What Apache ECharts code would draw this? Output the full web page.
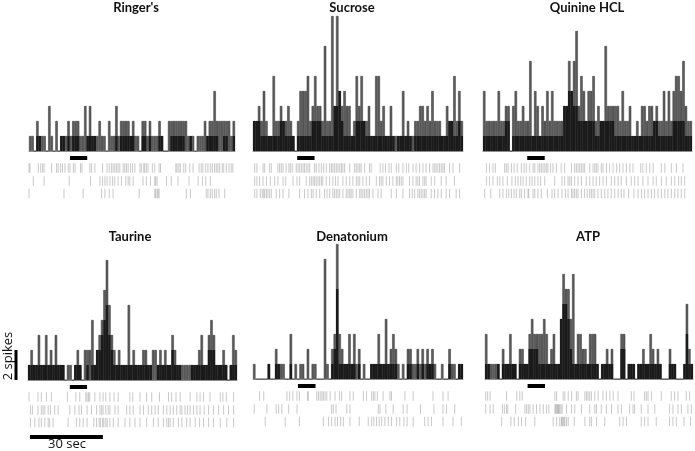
<!DOCTYPE html>
<html><head><meta charset="utf-8">
<script src="https://cdn.jsdelivr.net/npm/echarts@6/dist/echarts.min.js"></script>
<style>html,body{margin:0;padding:0;background:#fff}#c{width:695px;height:451px}</style>
</head><body><div id="c"></div>
<script>
const panelNames = ["Ringer's", "Sucrose", "Quinine HCL", "Taurine", "Denatonium", "ATP"];

// spikes per 1-s bin (upper envelope, and dark overlapping core)
const ringersEnv = [1,1,0,2,1,1,1,0,3,1,0,2,0,1,1,1,2,1,2,2,2,1,1,3,1,3,1,1,1,2,1,1,0,2,1,1,3,1,2,2,2,2,1,2,1,1,0,2,2,1,2,1,1,1,2,1,0,0,2,2,2,2,2,2,2,2,1,1,1,0,1,1,1,2,1,2,2,4,2,2,2,2,2,2,1,2];
const ringersCore = [0,0,0,1,1,0,0,0,0,0,0,0,0,1,1,0,1,0,1,1,1,0,0,0,1,1,1,1,0,0,0,0,0,0,0,0,1,0,1,1,1,1,1,1,0,0,0,1,1,0,1,0,0,0,1,1,0,0,0,1,1,1,1,1,1,0,0,1,0,0,0,0,0,0,1,1,1,1,1,0,0,1,1,0,0,1];
const sucroseEnv = [2,2,3,2,4,2,1,1,5,2,2,3,2,2,3,2,1,0,2,4,4,4,5,2,3,5,3,3,2,7,2,2,9,3,9,4,3,4,3,3,1,2,5,3,5,2,2,3,1,1,5,5,2,3,1,1,3,1,1,1,1,4,1,2,1,1,2,2,3,3,2,3,2,4,2,2,2,1,1,3,2,2,5,2,4,2];
const sucroseCore = [2,2,2,1,1,1,1,1,1,1,1,2,2,1,1,1,1,0,1,1,1,1,1,1,2,2,2,2,1,1,1,1,1,3,3,4,2,1,1,1,1,1,2,2,2,2,1,1,1,1,1,1,1,1,1,1,1,1,0,1,1,1,1,1,1,0,1,1,1,1,1,1,1,1,1,1,1,1,1,1,2,2,1,1,2,1];
const quinineEnv = [4,2,2,2,2,2,4,2,2,3,3,0,3,4,2,2,3,2,2,6,1,4,3,1,3,2,4,2,4,2,2,2,2,3,3,6,4,6,8,3,5,4,2,4,4,5,2,3,2,2,7,3,3,3,3,3,2,4,2,2,3,1,1,2,1,3,3,2,3,3,2,3,2,2,4,2,4,2,4,5,5,4,6,3,2,2];
const quinineCore = [1,1,1,1,1,1,1,1,1,2,2,0,1,1,1,1,1,1,1,1,1,1,1,1,1,1,1,1,1,1,1,1,1,3,3,4,4,3,3,2,2,2,2,2,2,2,1,1,2,2,2,2,2,2,1,1,1,1,1,1,1,1,1,1,1,1,1,1,1,1,2,2,1,1,1,1,1,1,2,2,2,2,2,1,1,1];
const taurineEnv = [1,2,1,1,3,1,1,3,1,2,1,3,1,1,1,0,1,1,0,1,2,1,0,2,2,2,4,1,2,3,4,6,8,5,3,2,1,2,1,1,1,5,1,2,1,1,1,2,2,1,1,2,2,1,2,1,2,1,1,3,2,1,1,1,1,1,1,1,1,1,2,3,1,1,3,4,3,1,1,1,2,1,0,1,3,2];
const taurineCore = [1,1,1,1,1,1,1,1,1,1,1,1,1,1,1,0,0,0,0,1,1,1,0,0,1,0,1,1,2,2,3,4,5,3,2,1,1,1,1,1,1,1,1,1,1,1,1,1,1,1,1,0,0,1,1,1,1,1,1,2,1,1,1,0,0,0,0,1,1,1,1,1,1,1,2,2,2,1,1,1,1,1,0,1,1,1];
const denatoniumEnv = [1,0,0,0,0,0,1,0,0,2,1,1,1,0,0,3,0,1,0,1,1,0,2,0,1,1,0,0,0,8,1,0,2,3,9,3,2,1,1,3,1,3,1,2,0,1,0,0,1,1,1,3,1,1,4,1,2,3,2,1,0,1,0,2,2,1,1,2,1,2,1,2,1,2,1,0,0,1,0,0,2,1,1,0,1,1];
const denatoniumCore = [0,0,0,0,0,0,1,0,0,1,1,0,0,0,0,1,0,0,0,0,0,0,0,0,0,0,0,0,0,0,0,0,1,2,6,1,1,1,1,1,1,1,0,1,0,0,0,0,1,1,1,1,1,1,1,1,1,1,1,0,0,0,0,1,1,0,0,1,0,1,0,1,1,1,0,0,0,0,0,0,1,0,0,0,1,1];
const atpEnv = [3,1,1,1,1,1,0,2,1,1,3,1,1,0,2,2,1,1,3,4,3,3,3,3,4,3,1,2,3,1,1,4,7,6,6,4,7,1,3,3,2,2,1,3,3,3,1,0,1,1,2,1,2,0,0,0,3,3,0,1,1,1,0,1,1,2,1,1,3,2,1,2,1,0,0,0,2,1,1,0,0,0,1,5,2,1];
const atpCore = [1,1,0,0,0,1,0,1,1,1,1,1,1,0,1,1,1,1,2,2,2,2,1,1,1,1,1,1,1,1,1,4,5,5,4,2,1,1,1,1,1,1,1,1,1,1,1,0,1,1,1,1,1,0,0,0,2,2,0,1,1,1,0,1,1,1,1,1,1,1,1,1,1,0,0,0,1,1,1,0,0,0,1,3,1,1];

// raster spike times (s), three trials per stimulus
const ringersR1 = [0,0.4,3.9,4.9,5.7,6.3,9.4,11.5,12.2,13.2,14,15,16.4,17.1,18.5,19.2,21.5,22.1,25.4,26.1,27.5,30.7,32.6,33.5,34.4,35.1,35.8,36.5,37.2,37.9,39.3,40,40.7,41.4,42.4,43.2,44.2,46.3,46.9,47.9,48.3,49,49.7,51.5,52.5,54.3,54.9,61.3,61.8,62.6,63.2,64.6,65.4,67.1,68.5,71,71.9,72.6,73.8,74.7,75.7,76.5,77.5,78.2,78.9,79.6,80.7,81.3,82.4,83.5,84.4,85.1];
const ringersR2 = [1.8,6.3,16.8,25.7,29.6,30.7,31.7,32.6,33.8,34.9,35.8,37.2,38.6,40.4,41.4,42.1,43.5,47.6,49,50.7,52.5,52.9,53.5,57.4,59.4,62.2,66.8,70.6,72.4,73.8,75.7];
const ringersR3 = [0,14.6,22.6,30.3,31.7,33.5,35.1,46,52.5,52.9,53.5,53.9,54.3,65.7,67.4,74,74.7,75.7,76.5,77.5,78.2,79.3,81.7];
const sucroseR1 = [0.7,1.6,4.1,4.8,6.8,7.5,10.2,10.9,11.6,12.3,13.6,14.7,15.3,16.1,17.7,18.4,19.1,19.8,20.5,21.1,21.8,22.5,23.2,25.2,25.9,27,28,28.9,30,31.4,32.1,32.7,33.4,34.1,34.8,35.5,36.2,36.8,37.5,39.6,41.6,42.3,43,43.7,44.3,45.7,47.7,48.4,52.1,53.2,54.3,55.7,56.6,58.7,59.7,61.4,62.8,63.8,65.5,66.8,68.2,69.6,70.9,72.3,73.7,74.4,75,75.7,76.4,77.1,77.8,78.4,80.5,81.9,84.6];
const sucroseR2 = [0.7,1.6,2.7,4.1,5.5,7.1,8.9,10.2,12.3,13.4,16.4,18,19.1,21.8,23.2,23.9,24.6,25.2,25.9,26.6,27.3,28,28.6,30,31.4,32.7,33.8,34.8,36.8,38.2,39.6,40.9,42.3,43,43.7,45,46.4,47.7,50.5,51.8,52.5,53.2,54.6,55.9,57.3,58.7,59.3,60,60.7,61.4,64.1,65.5,66.8,67.5,68.2,69.6,70.3,70.9,73,74.4,77.1,79.1,82.5];
const sucroseR3 = [0.7,1.6,3,3.8,4.4,4.8,5.5,6.1,6.8,7.5,9.5,10.9,12.3,14.7,19.1,21.1,22.5,23.9,24.6,25.9,27.3,29.3,30.3,31.4,32.7,33.4,34.1,34.8,35.5,36.8,38.2,38.9,39.6,40.2,40.9,42.3,43.7,44.3,45,45.7,46.4,47.1,47.7,49.1,51.2,52.5,56.6,58.7,61.4,64.1,65.2,66.2,67.5,68.2,68.9,69.6,70.3,70.9,73,74.4,75.7,77.1,79.1,80.5,83.2,84.6];
const quinineR1 = [1.4,2.7,4.1,5.1,8.9,9.6,10.3,11.7,12.8,14.1,15.8,16.9,17.8,19.2,20.6,21.3,22.6,23.3,24,24.7,25.4,26.1,26.7,27.8,28.8,30.2,32.2,33.6,36.4,37.7,38.4,39.1,39.8,40.5,41.2,41.8,43.9,45.3,46,46.6,47.3,48.7,49.4,50.8,52.1,53.5,54.9,56.2,57.6,59,60.4,61.7,64.9,65.8,67.2,68.6,70,73.4,74.8,77.5,79.6,82.3];
const quinineR2 = [1.4,2.7,4.1,5.9,6.9,8.2,10,11.9,13.3,14.4,15.5,16.5,17.8,19.2,20.2,21.3,22.6,23.7,25.4,29.5,32.5,33.6,35,35.7,36.4,37.7,39.1,40.5,42.5,43.9,45.3,46.6,48,49.4,50.8,52.8,54.2,55.6,56.9,59,61,62.4,63.8,65.8,67.9,70,71.3,73.4,75.4,77.5,78.9,80.5,81.6,83];
const quinineR3 = [0.7,3.2,6.9,8.2,9.6,10.6,11.7,12.8,13.7,15.1,15.8,17.1,18.5,18.8,20.6,21.3,22.6,24,26.5,28.4,29.5,30.9,32.5,33.9,35,36.4,37,37.7,38.4,39.1,40.5,41.8,42.9,43.9,44.6,45.3,46,47.3,48.7,50.1,51.4,52.8,54.2,55.6,56.9,58,59.9,62.1,63.8,65.2,66.5,67.9,69.3,70.6,72,73.4,74.8,76.1,77.5,78.9,80.2,81.6,83];
const taurineR1 = [0.4,4.1,5.5,7.6,9.6,16.2,19.7,21.3,23.8,24.3,24.9,25.4,27.5,29.6,30.9,32,33.7,35.4,37.1,41.9,43.1,46.1,48.8,50.9,54.1,57.8,59.1,60.9,62.6,66.7,69.5,70.8,72.2,74.9,79.1,80.2,81.6,84.6];
const taurineR2 = [1,1.8,4.1,5.5,6.2,6.9,8.3,9.2,11,12.4,17.2,19.3,21,22,24.3,26.1,28.2,29.6,30.3,30.9,32,33,33.7,35.8,37.1,40.6,41.9,43.3,46.1,47.5,49.5,50.9,52.3,53.6,55.7,57.1,58.5,59.8,61.2,62.6,63.3,64.6,65.6,66.7,68.1,69.5,70.8,72.5,74.3,76.3,78.4,80.5,82.5,84.6];
const taurineR3 = [1,2.8,4.5,5.5,6.9,8.3,8.9,10.3,16.5,19.9,21.3,22.7,24.3,27.1,28.2,29.3,29.8,30.7,31.2,32,32.6,33.7,35.1,37.1,39.9,41.9,44,46.1,48.8,51.6,53.6,55.7,57.1,57.8,58.5,59.8,61.9,63.3,65.3,66.7,68.8,70.6,72.2,74.3,76.3,79.1,81.8,84.6];
const denatoniumR1 = [2.7,4.4,13.9,15,16.3,18,19,22.3,22.7,26.1,26.8,27.5,28.2,28.8,29.5,30.2,31.6,33.6,35.4,36.3,39.7,41.1,45.2,46.5,48.6,49.3,49.9,50.9,53.3,56.1,56.7,62.2,65.6,73.7,77.8,79.9];
const denatoniumR2 = [0.5,5.7,9.5,10.5,11.8,14.6,18,32.2,32.9,34,38.4,39.7,51.3,52,54.4,57.4,61.5,63.1,68.6,74.1,77.8,79.2,82.6];
const denatoniumR3 = [5,13.2,19,28.8,30.9,32.2,33.6,34.6,35.9,37,39.7,43.5,47.2,48.6,49.5,50.6,51.7,52.7,54,55.4,56.7,58.8,60.1,61.8,63.1,65.6,70.3,71.7,73.1,77.8,81.9,85.3];
const atpR1 = [0.3,1.1,2.1,8.9,13.1,14.4,15.4,28.9,29.6,32.3,33,34.4,35.8,37.8,38.5,41.3,42,42.6,43.3,44,45.4,46.8,48.8,50.2,51.6,53,55,60.5,61.6,66,66.7,67.4,68.8,72.9,77,78.4,79.8,83.2,84.6];
const atpR2 = [0.3,2.1,3.4,7.2,8,8.9,9.4,12.7,16.5,17.2,17.9,18.6,19.9,21.3,22.7,24.1,25.4,26.4,28.9,29.2,29.6,30,30.3,30.5,30.9,31.4,31.9,33.7,35.8,37.1,39.9,43.3,45.4,46.1,48.1,50.2,52.3,55,56.4,59.8,61.2,61.9,64.6,67.4,70.2,76.3,77.7,79.8,81.2,83.9,85.3];
const atpR3 = [6.9,10.7,12.1,13.8,15.1,16.8,20.6,28.2,29.6,30.9,31.6,31.9,32.3,32.7,33,33.7,34.4,36.9,41.3,43.3,44,46.1,49.5,55.7,57.1,58.5,64.6,66,67.4,70.8,76.3,77.7,79.1,82.3,85];

// stimulus application window (s)
const stimStart = [17.1, 18.1, 18.2, 17.2, 18.4, 17.6];
const stimEnd = [24.3, 25.2, 25.4, 24.3, 25.6, 24.8];
const scaleSpikes = 2;
const scaleSeconds = 30;
const scaleLabels = ["2 spikes", "30 sec"];

const envs = [ringersEnv, sucroseEnv, quinineEnv, taurineEnv, denatoniumEnv, atpEnv];
const cores = [ringersCore, sucroseCore, quinineCore, taurineCore, denatoniumCore, atpCore];
const rasters = [
  [ringersR1, ringersR2, ringersR3],
  [sucroseR1, sucroseR2, sucroseR3],
  [quinineR1, quinineR2, quinineR3],
  [taurineR1, taurineR2, taurineR3],
  [denatoniumR1, denatoniumR2, denatoniumR3],
  [atpR1, atpR2, atpR3]
];

// ---- layout (pixels) ----
const layout = [
  {left: 29, width: 206, base: 151, tx: 136, ty: 1},
  {left: 253, width: 210, base: 151, tx: 352, ty: 1},
  {left: 483, width: 209, base: 151, tx: 587, ty: 1},
  {left: 28, width: 209, base: 380, tx: 130, ty: 230},
  {left: 253, width: 210, base: 379, tx: 352, ty: 230},
  {left: 485, width: 208, base: 379, tx: 588, ty: 230}
];
const NB = 86;
const rowY = [1.7, 3.0, 4.25];
const stimY = 0.7;

const grid = [], xAxis = [], yAxis = [], series = [], graphic = [];
layout.forEach((L, p) => {
  grid.push({left: L.left, width: L.width, top: L.base - 150, height: 150});
  grid.push({left: L.left, width: L.width, top: L.base, height: 50});
  xAxis.push({type: 'value', gridIndex: 2 * p, min: 0, max: NB, axisLine: {show: true, lineStyle: {color: '#9a9a9a', width: 1}}, axisTick: {show: false}, axisLabel: {show: false}, splitLine: {show: false}});
  xAxis.push({type: 'value', gridIndex: 2 * p + 1, min: 0, max: NB, show: false, splitLine: {show: false}});
  yAxis.push({type: 'value', gridIndex: 2 * p, min: 0, max: 10, show: false, splitLine: {show: false}});
  yAxis.push({type: 'value', gridIndex: 2 * p + 1, min: 0, max: 5, inverse: true, show: false, splitLine: {show: false}});
  const bw = L.width / NB;
  series.push({type: 'bar', xAxisIndex: 2 * p, yAxisIndex: 2 * p, barWidth: bw, barGap: '-100%',
    itemStyle: {color: '#5f5f5f', borderColor: '#2e2e2e', borderWidth: 0.5}, silent: true,
    data: envs[p].map((h, k) => [k + 0.5, h])});
  series.push({type: 'bar', xAxisIndex: 2 * p, yAxisIndex: 2 * p, barWidth: bw, barGap: '-100%',
    itemStyle: {color: '#1a1a1a'}, silent: true,
    data: cores[p].map((h, k) => [k + 0.5, Math.min(h, envs[p][k])])});
  rasters[p].forEach((row, r) => {
    series.push({type: 'scatter', xAxisIndex: 2 * p + 1, yAxisIndex: 2 * p + 1, symbol: 'rect', symbolSize: [1, 9.5],
      itemStyle: {color: 'rgba(120,120,120,0.5)'}, silent: true,
      data: row.map(t => [t, rowY[r]])});
  });
  series.push({type: 'line', xAxisIndex: 2 * p + 1, yAxisIndex: 2 * p + 1, symbol: 'none', silent: true,
    lineStyle: {color: '#000', width: 4, cap: 'butt'},
    data: [[stimStart[p], stimY], [stimEnd[p], stimY]]});
  graphic.push({type: 'text', x: L.tx, y: L.ty, style: {text: panelNames[p], textAlign: 'center', textVerticalAlign: 'top', font: 'bold 13px Lato', fill: '#111'}});
});

// scale-bar grid (spikes) left of Taurine: same 15 px / spike scale
grid.push({left: 4, width: 24, top: 230, height: 150});
xAxis.push({type: 'value', gridIndex: 12, min: 0, max: 1, show: false});
yAxis.push({type: 'value', gridIndex: 12, min: 0, max: 10, show: false});
series.push({type: 'line', xAxisIndex: 12, yAxisIndex: 12, symbol: 'none', silent: true,
  lineStyle: {color: '#000', width: 3, cap: 'butt'},
  data: [[0.5, 0], [0.5, scaleSpikes]]});
// time scale bar under Taurine raster (seconds)
series.push({type: 'line', xAxisIndex: 7, yAxisIndex: 7, symbol: 'none', clip: false, silent: true,
  lineStyle: {color: '#000', width: 4, cap: 'butt'},
  data: [[0.8, 5.7], [0.8 + scaleSeconds, 5.7]]});
graphic.push({type: 'text', x: 8, y: 356, rotation: Math.PI / 2, style: {text: scaleLabels[0], textAlign: 'center', textVerticalAlign: 'middle', font: '13px "Open Sans"', fill: '#111'}});
graphic.push({type: 'text', x: 67, y: 444, style: {text: scaleLabels[1], textAlign: 'center', textVerticalAlign: 'middle', font: '13px "Open Sans"', fill: '#111'}});

const chart = echarts.init(document.getElementById('c'), null, {renderer: 'canvas'});
chart.setOption({animation: false, backgroundColor: '#fff', grid, xAxis, yAxis, series, graphic});
</script></body></html>
